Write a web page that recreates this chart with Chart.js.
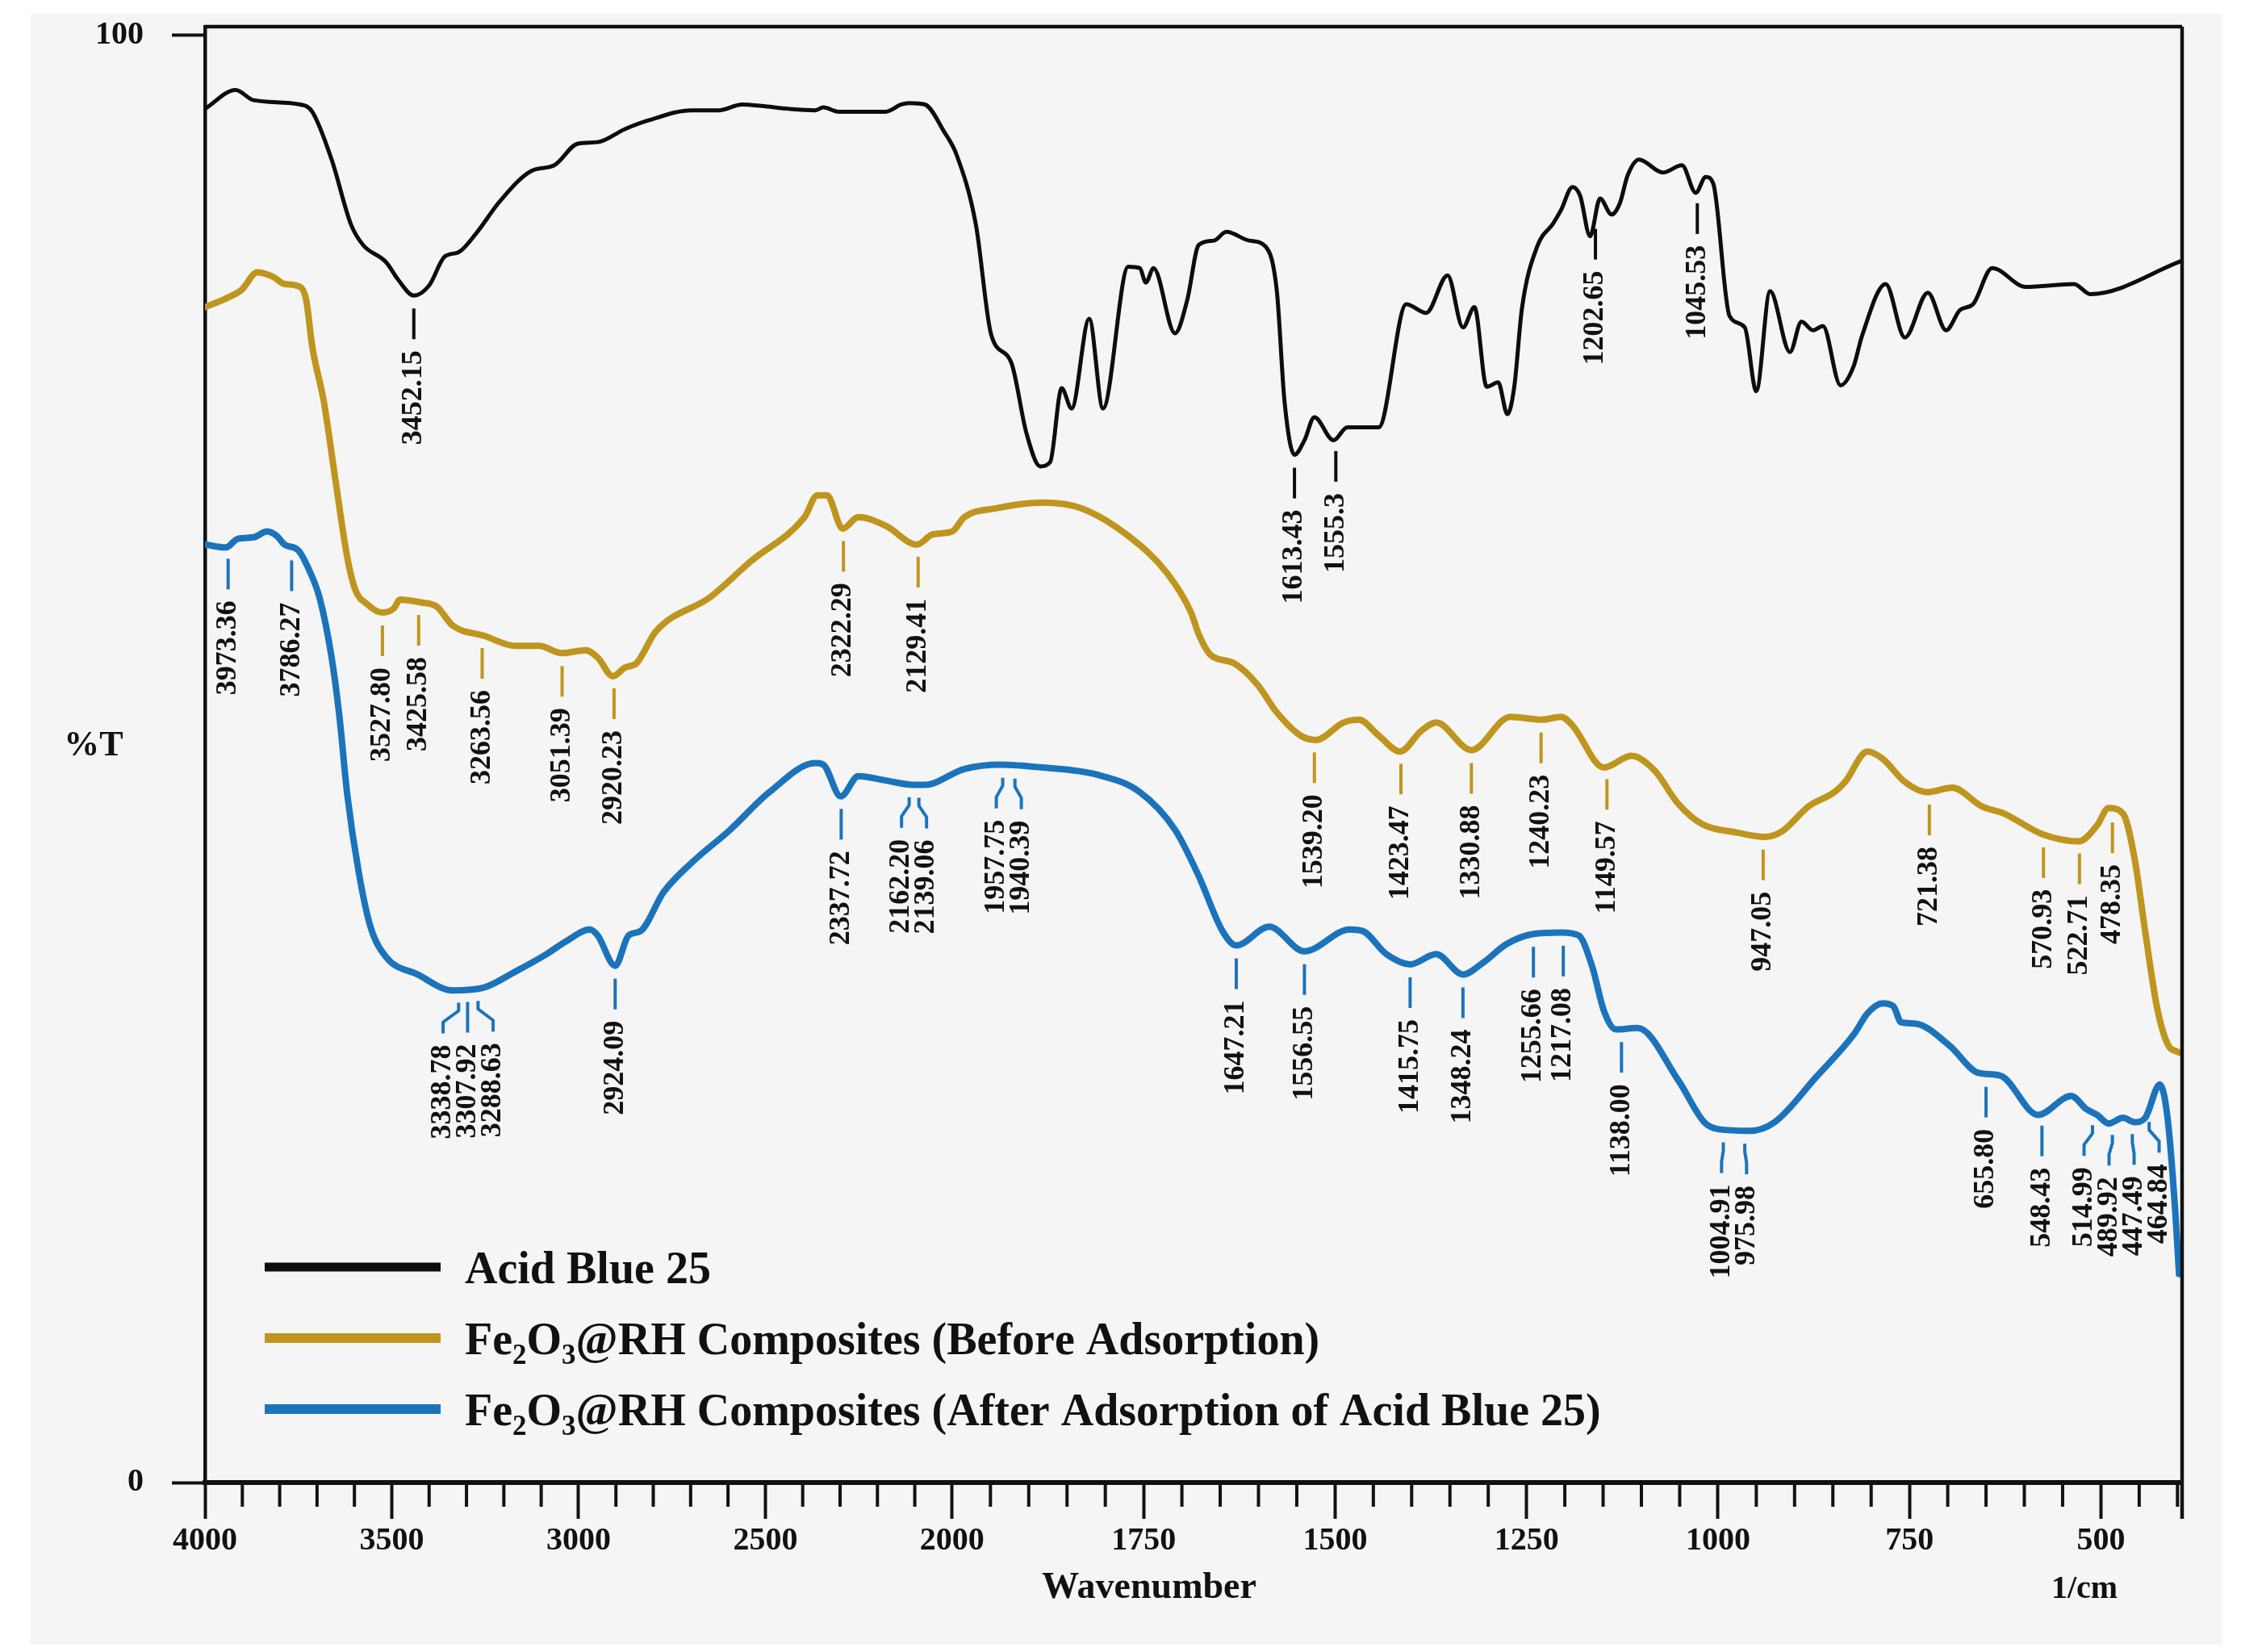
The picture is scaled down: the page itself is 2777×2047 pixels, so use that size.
<!DOCTYPE html>
<html>
<head>
<meta charset="utf-8">
<title>FTIR spectra - Acid Blue 25 / Fe2O3@RH</title>
<script src="https://cdn.jsdelivr.net/npm/chart.js@4.4.1/dist/chart.umd.min.js"></script>
<style>
  html, body { margin: 0; padding: 0; background: #ffffff; }
  canvas { display: block; }
</style>
</head>
<body>
<canvas id="ftirChart" width="2777" height="2047"></canvas>
<script>
// espectros FTIR (numero de onda en 1/cm, %T)

const blackWn = [4000, 3918, 3870, 3745, 3713, 3661, 3609, 3577, 3515, 3483, 3441, 3400, 3358, 3321, 3274, 3211, 3127, 3065, 3002, 2949,
  2876, 2813, 2698, 2625, 2562, 2510, 2437, 2366, 2345, 2304, 2178, 2136, 2115, 2073, 2021, 1994, 1969, 1949, 1923, 1903,
  1885, 1872, 1857, 1844, 1821, 1803, 1770, 1755, 1747, 1737, 1709, 1693, 1678, 1658, 1642, 1612, 1591, 1576, 1566, 1553,
  1540, 1527, 1502, 1484, 1443, 1407, 1381, 1353, 1333, 1318, 1302, 1287, 1275, 1266, 1256, 1236, 1215, 1205, 1190, 1180,
  1167, 1154, 1139, 1128, 1118, 1103, 1072, 1047, 1029, 1016, 1006, 985, 965, 950, 932, 906, 891, 876, 863, 840,
  823, 812, 781, 756, 726, 702, 684, 667, 642, 598, 535, 514, 394];
const blackT = [94.9, 96.2, 95.5, 95.2, 94.7, 91.4, 86.9, 85.5, 84.3, 83.1, 82.0, 82.7, 84.7, 85.0, 86.3, 88.5, 90.6, 91.0, 92.5, 92.6,
  93.5, 94.1, 94.8, 94.8, 95.2, 95.1, 94.9, 94.8, 95.0, 94.7, 94.7, 95.2, 95.3, 95.2, 93.3, 91.7, 86.9, 79.3, 77.4, 72.5,
  70.2, 70.5, 75.6, 74.2, 80.4, 74.2, 84.0, 83.9, 82.9, 83.9, 79.4, 81.7, 85.5, 85.8, 86.4, 85.8, 85.4, 82.3, 74.7, 71.0,
  72.0, 73.6, 72.0, 72.9, 72.9, 81.4, 80.8, 83.4, 79.8, 81.2, 75.7, 76.0, 73.8, 75.7, 81.1, 85.4, 87.0, 87.9, 89.5, 88.9,
  86.1, 88.7, 87.6, 88.4, 90.3, 91.4, 90.5, 91.0, 89.1, 90.2, 89.7, 80.6, 79.8, 75.4, 82.3, 78.1, 80.2, 79.6, 79.9, 75.8,
  77.1, 79.2, 82.8, 79.1, 82.2, 79.6, 81.0, 81.4, 83.9, 82.6, 82.8, 82.1, 84.4];

const beforeWn = [4000, 3944, 3902, 3860, 3818, 3787, 3745, 3729, 3713, 3682, 3651, 3619, 3598, 3567, 3525, 3494, 3478, 3421, 3379, 3337,
  3253, 3169, 3106, 3044, 2981, 2949, 2908, 2876, 2845, 2793, 2646, 2541, 2395, 2361, 2335, 2293, 2251, 2178, 2094, 2052,
  2000, 1984, 1943, 1882, 1831, 1770, 1719, 1688, 1678, 1663, 1632, 1601, 1576, 1545, 1525, 1489, 1469, 1443, 1415, 1388,
  1368, 1322, 1271, 1230, 1205, 1190, 1149, 1113, 1083, 1052, 1021, 975, 939, 916, 882, 848, 834, 805, 785, 756,
  727, 694, 655, 626, 577, 529, 505, 490, 471, 456, 442, 427, 413, 398];
const beforeT = [81.2, 81.8, 82.4, 83.6, 83.3, 82.8, 82.6, 81.7, 78.5, 74.7, 69.3, 63.9, 61.7, 60.7, 60.1, 60.4, 61.0, 60.8, 60.5, 59.2,
  58.5, 57.8, 57.8, 57.3, 57.5, 57.0, 55.7, 56.3, 56.6, 58.8, 61.2, 63.6, 66.7, 68.2, 68.2, 65.9, 66.7, 66.1, 64.8, 65.5,
  65.7, 66.7, 67.3, 67.7, 67.3, 65.4, 62.8, 60.1, 58.6, 57.2, 56.6, 55.1, 53.2, 51.6, 51.3, 52.5, 52.7, 51.6, 50.5, 51.9,
  52.5, 50.6, 52.9, 52.7, 52.9, 52.3, 49.4, 50.2, 49.2, 46.9, 45.5, 44.9, 44.6, 45.0, 46.7, 47.7, 48.4, 50.5, 50.0, 48.4,
  47.7, 48.0, 46.7, 46.2, 44.8, 44.3, 45.4, 46.6, 46.2, 43.1, 38.0, 32.9, 30.3, 29.7];

const afterWn = [4000, 3944, 3912, 3870, 3834, 3808, 3787, 3750, 3724, 3693, 3661, 3640, 3619, 3588, 3557, 3515, 3431, 3337, 3253, 3169,
  3086, 3033, 2970, 2949, 2902, 2866, 2834, 2772, 2698, 2594, 2489, 2366, 2345, 2298, 2251, 2178, 2104, 2073, 1984, 1938,
  1882, 1811, 1755, 1709, 1678, 1647, 1629, 1586, 1540, 1481, 1464, 1433, 1402, 1368, 1333, 1307, 1276, 1241, 1205, 1182,
  1164, 1149, 1133, 1105, 1052, 1018, 998, 959, 926, 872, 822, 805, 785, 771, 761, 742, 698, 660, 631, 582,
  539, 519, 505, 490, 471, 456, 442, 423, 413, 403, 398];
const afterT = [64.8, 64.6, 65.2, 65.3, 65.7, 65.4, 64.8, 64.4, 63.2, 61.1, 57.0, 52.9, 47.5, 42.1, 38.4, 36.3, 35.1, 34.0, 34.2, 35.3,
  36.5, 37.4, 38.2, 37.8, 35.7, 37.8, 38.1, 40.8, 42.8, 45.1, 47.7, 49.7, 49.6, 47.4, 48.8, 48.5, 48.2, 48.2, 49.3, 49.6,
  49.4, 48.9, 47.7, 45.1, 41.9, 38.1, 37.1, 38.4, 36.7, 38.2, 38.1, 36.5, 35.8, 36.5, 35.1, 35.9, 37.2, 37.9, 38.0, 37.8,
  35.6, 32.6, 31.3, 31.4, 27.8, 24.9, 24.4, 24.3, 24.9, 28.0, 31.0, 32.4, 33.1, 32.9, 31.8, 31.7, 30.2, 28.3, 28.1, 25.4,
  26.7, 25.8, 25.4, 24.8, 25.2, 24.9, 25.2, 27.5, 25.2, 18.8, 14.4];

// etiquetas de picos: texto y posicion de la marca sobre la curva
const blackPeakLabels = ['3452.15', '1613.43', '1555.3', '1202.65', '1045.53'];
const blackPeakAt = [3441, 1553, 1499, 1160, 1027];
const beforePeakLabels = ['3527.80', '3425.58', '3263.56', '3051.39', '2920.23', '2322.29', '2129.41', '1539.20', '1423.47',
  '1330.88', '1240.23', '1149.57', '947.05', '721.38', '570.93', '522.71', '478.35'];
const beforePeakAt = [3525, 3428, 3258, 3044, 2905, 2291, 2091, 1527, 1414, 1322, 1231, 1145, 941, 724, 575, 528, 485];
const afterPeakLabels = ['3973.36', '3786.27', '3338.78', '3307.92', '3288.63', '2924.09', '2337.72', '2162.20', '2139.06',
  '1957.75', '1940.39', '1647.21', '1556.55', '1415.75', '1348.24', '1255.66', '1217.08', '1138.00', '1004.91', '975.98',
  '655.80', '548.43', '514.99', '489.92', '447.49', '464.84'];
const afterPeakAt = [3938, 3768, 3321, 3297, 3269, 2902, 2297, 2115, 2089, 1934, 1918, 1629, 1540, 1402, 1333, 1241, 1202,
  1126, 993, 965, 650, 577, 511, 485, 459, 437];

const majorTicks = [4000, 3500, 3000, 2500, 2000, 1750, 1500, 1250, 1000, 750, 500];
const yTicks = [0, 100];
const seriesNames = ['Acid Blue 25', 'Fe\u2082O\u2083@RH Composites (Before Adsorption)', 'Fe\u2082O\u2083@RH Composites (After Adsorption of Acid Blue 25)'];
const seriesColors = ['#0d0d0d', '#bf951e', '#1b74bb'];

// eje x del espectrometro: por debajo de 2000 1/cm la escala se estira
const BREAK_WN = 2000;
const STRETCH = 2.05;
const END_WN = 394;
function toU(w) { return w >= BREAK_WN ? 4000 - w : 2000 + (BREAK_WN - w) * STRETCH; }
function fromU(u) { return u <= 2000 ? 4000 - u : BREAK_WN - (u - 2000) / STRETCH; }

function minorTickList() {
  const list = [];
  for (let w = 3900; w > 2000; w -= 100) if (w % 500 !== 0) list.push(w);
  for (let w = 1950; w > END_WN; w -= 50) if (w % 250 !== 0) list.push(w);
  return list;
}

function valueAt(wn, tr, w) {
  for (let i = 0; i < wn.length - 1; i++) {
    if ((wn[i] - w) * (wn[i + 1] - w) <= 0) {
      const f = (w - wn[i]) / (wn[i + 1] - wn[i]);
      return tr[i] + f * (tr[i + 1] - tr[i]);
    }
  }
  return tr[tr.length - 1];
}

//separar etiquetas que quedan encimadas
function spreadPositions(xs, minGap) {
  const out = xs.slice();
  for (let iter = 0; iter < 60; iter++) {
    let moved = false;
    for (let i = 0; i < out.length - 1; i++) {
      const d = out[i + 1] - out[i];
      if (d < minGap - 0.01) {
        const push = (minGap - d) / 2;
        out[i] -= push;
        out[i + 1] += push;
        moved = true;
      }
    }
    if (!moved) break;
  }
  return out;
}

const SERIF = "'Liberation Serif', 'Times New Roman', serif";

const panelPlugin = {
  id: 'panel',
  beforeDraw(chart) {
    const ctx = chart.ctx;
    ctx.save();
    ctx.fillStyle = '#ffffff';
    ctx.fillRect(0, 0, chart.width, chart.height);
    ctx.fillStyle = '#f5f5f5';
    ctx.fillRect(38, 17, 2716, 2021);
    ctx.restore();
  }
};

const framePlugin = {
  id: 'frame',
  afterDraw(chart) {
    const ctx = chart.ctx;
    const a = chart.chartArea;
    const xs = chart.scales.x;
    ctx.save();
    ctx.strokeStyle = '#111';
    ctx.lineWidth = 4.5;
    ctx.beginPath();
    ctx.moveTo(a.left, a.top);
    ctx.lineTo(a.right, a.top);
    ctx.moveTo(a.right, a.top);
    ctx.lineTo(a.right, a.bottom + 45);
    ctx.stroke();
    // marcas menores del eje x
    ctx.lineWidth = 4;
    ctx.beginPath();
    minorTickList().forEach(w => {
      const px = xs.getPixelForValue(toU(w));
      ctx.moveTo(px, a.bottom);
      ctx.lineTo(px, a.bottom + 30);
    });
    ctx.stroke();
    // titulos de ejes
    ctx.fillStyle = '#111';
    ctx.textBaseline = 'alphabetic';
    ctx.textAlign = 'center';
    ctx.font = 'bold 46px ' + SERIF;
    ctx.fillText('Wavenumber', 1424, 1980);
    ctx.font = 'bold 40px ' + SERIF;
    ctx.fillText('1/cm', 2583, 1980);
    ctx.font = 'bold 44px ' + SERIF;
    ctx.textBaseline = 'middle';
    ctx.fillText('%T', 116, 925);
    ctx.restore();
  }
};

function drawRichText(ctx, text, x, y, size) {
  // los caracteres de subindice se dibujan mas chicos y abajo
  const subMap = { '\u2082': '2', '\u2083': '3' };
  let cx = x;
  for (const ch of text) {
    if (subMap[ch]) {
      ctx.font = 'bold ' + Math.round(size * 0.62) + 'px ' + SERIF;
      ctx.fillText(subMap[ch], cx, y + size * 0.22);
      cx += ctx.measureText(subMap[ch]).width;
    } else {
      ctx.font = 'bold ' + size + 'px ' + SERIF;
      ctx.fillText(ch, cx, y);
      cx += ctx.measureText(ch).width;
    }
  }
}

const legendPlugin = {
  id: 'spectraLegend',
  afterDraw(chart) {
    const ctx = chart.ctx;
    const rows = [1570, 1658, 1746];
    const lineW = [11, 12, 12];
    ctx.save();
    chart.data.datasets.forEach((ds, i) => {
      const y = rows[i];
      ctx.strokeStyle = ds.borderColor;
      ctx.lineWidth = lineW[i];
      ctx.lineCap = 'butt';
      ctx.beginPath();
      ctx.moveTo(328, y);
      ctx.lineTo(546, y);
      ctx.stroke();
      ctx.fillStyle = '#111';
      ctx.textAlign = 'left';
      ctx.textBaseline = 'alphabetic';
      drawRichText(ctx, ds.label, 576, y + 20, 56);
    });
    ctx.restore();
  }
};

const peakPlugin = {
  id: 'peakLabels',
  afterDatasetsDraw(chart) {
    const ctx = chart.ctx;
    const xs = chart.scales.x;
    const ys = chart.scales.y;
    const groups = [
      { labels: blackPeakLabels, at: blackPeakAt, wn: blackWn, tr: blackT, color: seriesColors[0] },
      { labels: beforePeakLabels, at: beforePeakAt, wn: beforeWn, tr: beforeT, color: seriesColors[1] },
      { labels: afterPeakLabels, at: afterPeakAt, wn: afterWn, tr: afterT, color: seriesColors[2] }
    ];
    ctx.save();
    groups.forEach(g => {
      const ax = g.at.map(w => xs.getPixelForValue(toU(w)));
      const tx = spreadPositions(ax, 31);
      g.labels.forEach((label, i) => {
        const ay = ys.getPixelForValue(valueAt(g.wn, g.tr, g.at[i]));
        const y0 = ay + 16;
        const y1 = y0 + 38;
        ctx.strokeStyle = g.color;
        ctx.lineWidth = 4;
        ctx.lineJoin = 'round';
        ctx.beginPath();
        ctx.moveTo(ax[i], y0);
        if (Math.abs(tx[i] - ax[i]) < 2) {
          ctx.lineTo(ax[i], y1);
        } else {
          ctx.lineTo(ax[i], y0 + 10);
          ctx.lineTo(tx[i], y0 + 24);
          ctx.lineTo(tx[i], y1);
        }
        ctx.stroke();

        ctx.save();
        ctx.translate(tx[i], y1 + 14);
        ctx.rotate(-Math.PI / 2);
        ctx.textAlign = 'right';
        ctx.textBaseline = 'middle';
        ctx.fillStyle = '#111';
        ctx.font = 'bold 36px ' + SERIF;
        ctx.fillText(label, 0, 0);
        ctx.restore();
      });
    });
    ctx.restore();
  }
};

function buildPoints(wn, tr) {
  return wn.map((w, i) => ({ x: toU(w), y: tr[i] }));
}

const chartData = {
  datasets: [
    { label: seriesNames[0], data: buildPoints(blackWn, blackT), borderColor: seriesColors[0], borderWidth: 5 },
    { label: seriesNames[1], data: buildPoints(beforeWn, beforeT), borderColor: seriesColors[1], borderWidth: 8 },
    { label: seriesNames[2], data: buildPoints(afterWn, afterT), borderColor: seriesColors[2], borderWidth: 8 }
  ].map(ds => Object.assign(ds, {
    pointRadius: 0,
    fill: false,
    cubicInterpolationMode: 'monotone',
    borderJoinStyle: 'round',
    borderCapStyle: 'round'
  }))
};

const options = {
  responsive: false,
  animation: false,
  devicePixelRatio: 1,
  layout: {
    autoPadding: false,
    padding: { top: 33, right: 73, bottom: 0, left: 0 }
  },
  plugins: {
    legend: { display: false },
    tooltip: { enabled: false },
    title: { display: false }
  },
  scales: {
    x: {
      type: 'linear',
      min: toU(4000),
      max: toU(END_WN),
      afterBuildTicks: scale => { scale.ticks = majorTicks.map(w => ({ value: toU(w) })); },
      afterFit: scale => {
        scale.height = 210;
        scale.paddingLeft = 0;
        scale.paddingRight = 0;
        scale.paddingTop = 0;
        scale.paddingBottom = 0;
      },
      grid: { drawOnChartArea: false, drawTicks: true, tickLength: 45, tickWidth: 4, tickColor: '#111' },
      border: { display: true, color: '#111', width: 6 },
      ticks: {
        autoSkip: false,
        maxRotation: 0,
        minRotation: 0,
        padding: 4,
        color: '#111',
        font: { family: SERIF, size: 40, weight: 'bold' },
        callback: value => String(Math.round(fromU(value)))
      }
    },
    y: {
      type: 'linear',
      min: 0,
      max: 100.58,
      afterBuildTicks: scale => { scale.ticks = yTicks.map(v => ({ value: v })); },
      afterFit: scale => {
        scale.width = 254;
        scale.paddingLeft = 0;
        scale.paddingRight = 0;
        scale.paddingTop = 0;
        scale.paddingBottom = 0;
      },
      grid: { drawOnChartArea: false, drawTicks: true, tickLength: 41, tickWidth: 4, tickColor: '#111' },
      border: { display: true, color: '#111', width: 4.5 },
      ticks: {
        padding: 35,
        color: '#111',
        font: { family: SERIF, size: 40, weight: 'bold' },
        callback: value => String(value)
      }
    }
  }
};

new Chart(document.getElementById('ftirChart'), {
  type: 'line',
  data: chartData,
  options: options,
  plugins: [panelPlugin, peakPlugin, framePlugin, legendPlugin]
});
</script>
</body>
</html>
